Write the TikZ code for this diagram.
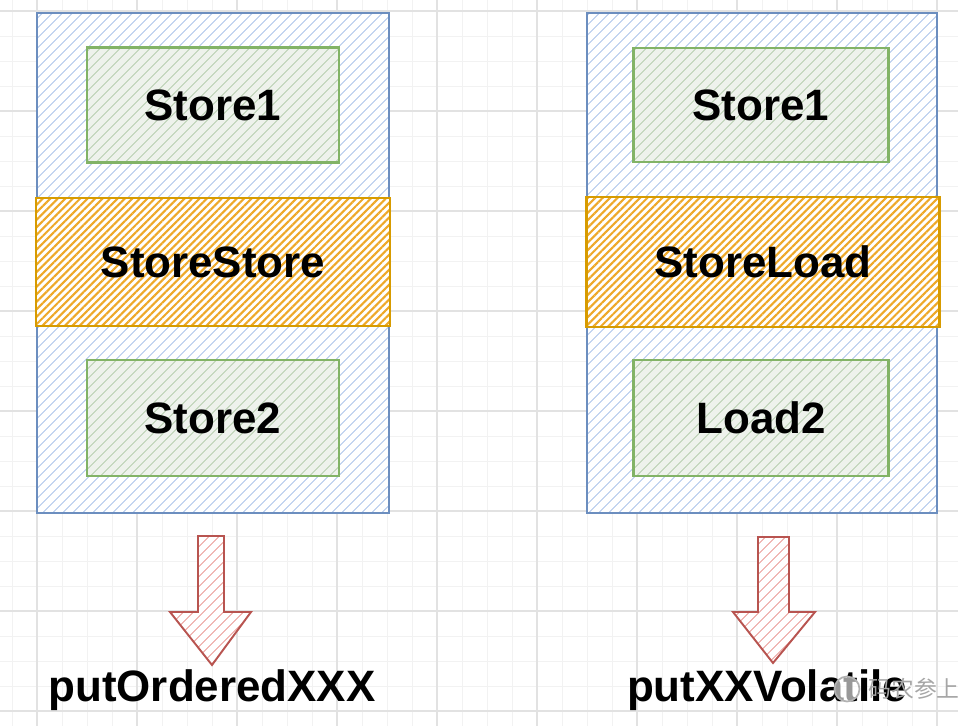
\documentclass[tikz,border=0pt]{standalone}
\usepackage{fontspec}
\setmainfont{Liberation Sans}
\newfontfamily\cjkfont{Noto Sans CJK SC}
\usetikzlibrary{patterns.meta}

\definecolor{gridminor}{HTML}{F2F2F2}
\definecolor{gridmajor}{HTML}{E2E2E2}
\definecolor{memblue}{HTML}{6C8EBF}
\definecolor{memhatch}{HTML}{C4D5F0}
\definecolor{opgreen}{HTML}{82B366}
\definecolor{ophatch}{HTML}{C6D8C0}
\definecolor{opback}{HTML}{EEF2EC}
\definecolor{fenceorange}{HTML}{D79B00}
\definecolor{fencehatch}{HTML}{EEA828}
\definecolor{callred}{HTML}{B85450}
\definecolor{callhatch}{HTML}{F0B8B5}

\begin{document}
\begin{tikzpicture}[
  x=0.02cm, y=-0.02cm,
  every node/.style={font=\bfseries\fontsize{25}{30}\selectfont, inner sep=0pt},
  minor line/.style={draw=gridminor, line width=0.5pt},
  major line/.style={draw=gridmajor, line width=0.8pt},
  mem box/.style={rectangle, draw=memblue, line width=1.4pt,
    preaction={fill=white},
    pattern={Lines[angle=45,distance=4pt,line width=0.7pt]}, pattern color=memhatch},
  op box/.style={rectangle, draw=opgreen, line width=1.4pt,
    preaction={fill=opback},
    pattern={Lines[angle=45,distance=4pt,line width=0.7pt]}, pattern color=ophatch},
  fence box/.style={rectangle, draw=fenceorange, line width=1.4pt,
    preaction={fill=white},
    pattern={Lines[angle=45,distance=3pt,line width=1.2pt]}, pattern color=fencehatch},
  call arrow/.style={draw=callred, line width=1.1pt, line join=miter,
    preaction={fill=white},
    pattern={Lines[angle=45,distance=4pt,line width=0.7pt]}, pattern color=callhatch},
  call label/.style={anchor=base},
  watermark/.style={font=\cjkfont\fontsize{13}{15}\selectfont, text=gray!70, anchor=west},
  watermark icon/.style={circle, draw=gray!60, line width=1pt, fill=white, fill opacity=0.6, minimum size=0.5cm},
]
\useasboundingbox (0,0) rectangle (958,726);

% grid
\foreach \gx in {12,37,...,962} \draw[minor line] (\gx,0) -- (\gx,726);
\foreach \gy in {11,36,...,726} \draw[minor line] (0,\gy) -- (958,\gy);
\foreach \gx in {37,137,...,937} \draw[major line] (\gx,0) -- (\gx,726);
\foreach \gy in {11,111,...,711} \draw[major line] (0,\gy) -- (958,\gy);

% left: putOrdered
\node[mem box, minimum width=7.04cm, minimum height=10cm] (memL) at (213,263) {};
\node[op box, minimum width=5.04cm, minimum height=2.3cm] (s1L) at (213,105) {Store1};
\node[fence box, minimum width=7.08cm, minimum height=2.56cm] (fL) at (213,262) {StoreStore};
\node[op box, minimum width=5.04cm, minimum height=2.32cm] (s2L) at (213,418) {Store2};

% right: putVolatile
\node[mem box, minimum width=7cm, minimum height=10cm] (memR) at (762,263) {};
\node[op box, minimum width=5.1cm, minimum height=2.28cm] (s1R) at (761,105) {Store1};
\node[fence box, minimum width=7.06cm, minimum height=2.6cm] (fR) at (763,262) {StoreLoad};
\node[op box, minimum width=5.1cm, minimum height=2.32cm] (l2R) at (761,418) {Load2};

% arrows
\draw[call arrow] (198,536) -- (224,536) -- (224,612) -- (251,612) -- (212,665)
  -- (170,612) -- (198,612) -- cycle;
\draw[call arrow] (758,537) -- (789,537) -- (789,612) -- (815,612) -- (773,663)
  -- (733,612) -- (758,612) -- cycle;

\node[call label] (oL) at (212,702) {putOrderedXXX};
\node[call label] (oR) at (767,702) {putXXVolatile};

% watermark
\node[watermark icon] (wmi) at (847,689) {};
\node[watermark] (wm) at (868,689) {码农参上};
\end{tikzpicture}
\end{document}
